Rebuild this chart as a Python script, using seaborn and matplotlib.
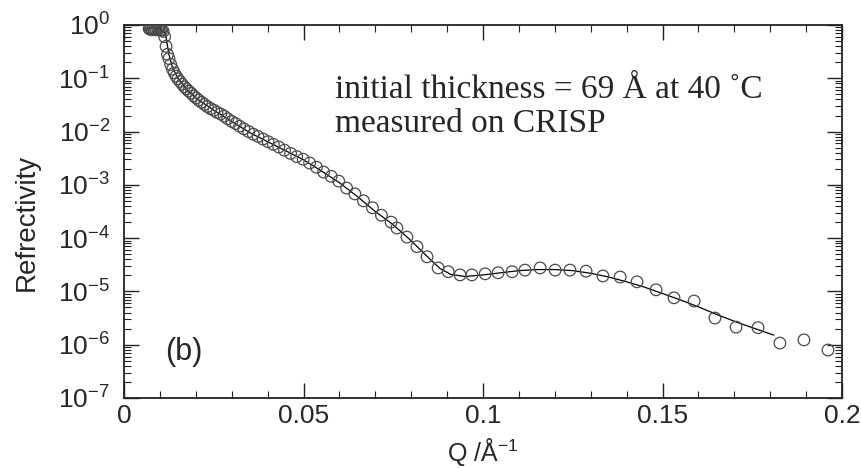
import numpy as np
import pandas as pd
import matplotlib
matplotlib.use("Agg")
import matplotlib.pyplot as plt
import matplotlib.ticker as mticker
import seaborn as sns

# ---- data ----
q_data = [0.0070, 0.0073, 0.0075, 0.0078, 0.0081, 0.0084, 0.0087, 0.0090, 0.0094, 0.0097,
          0.0101, 0.0105, 0.0109, 0.0113, 0.0117, 0.0121, 0.0125, 0.0130, 0.0135, 0.0140,
          0.0145, 0.0150, 0.0156, 0.0162, 0.0168, 0.0174, 0.0180, 0.0187, 0.0194, 0.0201,
          0.0208, 0.0216, 0.0224, 0.0232, 0.0241, 0.0250, 0.0259, 0.0269, 0.0279, 0.0289,
          0.0300, 0.0311, 0.0322, 0.0334, 0.0347, 0.0360, 0.0373, 0.0387, 0.0401, 0.0416,
          0.0431, 0.0447, 0.0464, 0.0481, 0.0499, 0.0517, 0.0536, 0.0556, 0.0577, 0.0598,
          0.0620, 0.0643, 0.0667, 0.0692, 0.0717, 0.0744, 0.0760, 0.0788, 0.0816, 0.0844,
          0.0875, 0.0903, 0.0936, 0.0969, 0.1006, 0.1042, 0.1081, 0.1117, 0.1159, 0.1201,
          0.1242, 0.1287, 0.1334, 0.1382, 0.1429, 0.1482, 0.1532, 0.1588, 0.1646, 0.1705,
          0.1766, 0.1827, 0.1894, 0.1961]
log_r_data = [-0.07, -0.08, -0.06, -0.09, -0.07, -0.08, -0.06, -0.09, -0.08, -0.07,
              -0.09, -0.10, -0.12, -0.22, -0.40, -0.55, -0.63, -0.74, -0.83, -0.90,
              -0.96, -1.01, -1.06, -1.11, -1.16, -1.20, -1.24, -1.28, -1.33, -1.37,
              -1.41, -1.45, -1.49, -1.53, -1.57, -1.60, -1.64, -1.67, -1.71, -1.76,
              -1.81, -1.85, -1.90, -1.95, -2.00, -2.05, -2.09, -2.14, -2.19, -2.24,
              -2.29, -2.35, -2.41, -2.47, -2.52, -2.59, -2.67, -2.76, -2.84, -2.93,
              -3.06, -3.17, -3.30, -3.43, -3.57, -3.70, -3.81, -3.98, -4.16, -4.35,
              -4.56, -4.63, -4.69, -4.69, -4.67, -4.65, -4.63, -4.60, -4.56, -4.60,
              -4.60, -4.62, -4.71, -4.73, -4.82, -4.97, -5.12, -5.18, -5.50, -5.67,
              -5.68, -5.97, -5.91, -6.10]

q_fit = [0.007, 0.010, 0.0115, 0.0125, 0.0135, 0.015, 0.0175, 0.020, 0.025, 0.030,
         0.035, 0.040, 0.045, 0.050, 0.055, 0.060, 0.065, 0.070, 0.075, 0.080,
         0.085, 0.088, 0.091, 0.095, 0.100, 0.105, 0.110, 0.115, 0.120, 0.125,
         0.130, 0.135, 0.140, 0.145, 0.150, 0.155, 0.160, 0.165, 0.170, 0.175, 0.181]
log_r_fit = [-0.05, -0.07, -0.15, -0.55, -0.80, -1.00, -1.22, -1.37, -1.60, -1.81,
             -2.02, -2.19, -2.36, -2.53, -2.74, -2.96, -3.22, -3.50, -3.75, -4.05,
             -4.38, -4.57, -4.68, -4.72, -4.69, -4.65, -4.61, -4.59, -4.59, -4.61,
             -4.66, -4.73, -4.82, -4.92, -5.04, -5.16, -5.29, -5.43, -5.56, -5.68, -5.82]

y_tick_labels = ["10$^{0}$", "10$^{-1}$", "10$^{-2}$", "10$^{-3}$", "10$^{-4}$",
                 "10$^{-5}$", "10$^{-6}$", "10$^{-7}$"]
x_tick_labels = ["0", "0.05", "0.1", "0.15", "0.2"]

df_data = pd.DataFrame({"Q": q_data, "R": np.power(10.0, log_r_data)})
df_fit = pd.DataFrame({"Q": q_fit, "R": np.power(10.0, log_r_fit)})

sns.set_style("ticks")
plt.rcParams["font.family"] = ["Liberation Sans", "DejaVu Sans"]
plt.rcParams["mathtext.fontset"] = "custom"
plt.rcParams["mathtext.rm"] = "Liberation Sans"
plt.rcParams["mathtext.default"] = "regular"

fig = plt.figure(figsize=(8.62, 4.68), dpi=100)
ax = fig.add_axes([0.1439, 0.1496, 0.8329, 0.7970])

sns.lineplot(data=df_fit, x="Q", y="R", ax=ax, color="black", linewidth=0.9,
             sort=False, zorder=2)
sns.scatterplot(data=df_data, x="Q", y="R", ax=ax, marker="o", s=70,
                facecolors="none", edgecolor="#4a4a4a", linewidth=0.9, zorder=3)

ax.set_yscale("log")
ax.set_xlim(0, 0.2)
ax.set_ylim(1e-7, 1)

ax.set_xticks([0, 0.05, 0.1, 0.15, 0.2])
ax.set_xticklabels(x_tick_labels)
ax.xaxis.set_minor_locator(mticker.MultipleLocator(0.01))
ax.set_yticks([1, 1e-1, 1e-2, 1e-3, 1e-4, 1e-5, 1e-6, 1e-7])
ax.set_yticklabels(y_tick_labels)
ax.yaxis.set_minor_locator(mticker.LogLocator(base=10, subs=np.arange(2, 10), numticks=20))
ax.yaxis.set_minor_formatter(mticker.NullFormatter())

ax.tick_params(which="both", direction="in", top=True, right=True, color="#222222")
ax.tick_params(which="major", length=11, width=1.0, labelsize=19)
ax.tick_params(axis="x", which="major", pad=4)
ax.tick_params(axis="y", which="major", pad=10)
ax.tick_params(which="minor", length=5, width=0.8)
for s in ax.spines.values():
    s.set_linewidth(1.3)
    s.set_color("#222222")

ax.set_xlabel("Q /Å$^{-1}$", fontsize=18, va="center")
ax.set_ylabel("Refrectivity", fontsize=20, va="center")
ax.xaxis.set_label_coords(0.5, -0.145)
ax.yaxis.set_label_coords(-0.135, 0.47)

ax.text(0.294, 0.826, "initial thickness = 69 Å at 40 ˚C", transform=ax.transAxes,
        fontsize=24, family=["Liberation Serif", "DejaVu Serif"], va="center", ha="left")
ax.text(0.294, 0.735, "measured on CRISP", transform=ax.transAxes,
        fontsize=24, family=["Liberation Serif", "DejaVu Serif"], va="center", ha="left")
ax.text(0.057, 0.123, "(b)", transform=ax.transAxes, fontsize=22, va="center", ha="left")

fig.savefig("out.png", dpi=100)
